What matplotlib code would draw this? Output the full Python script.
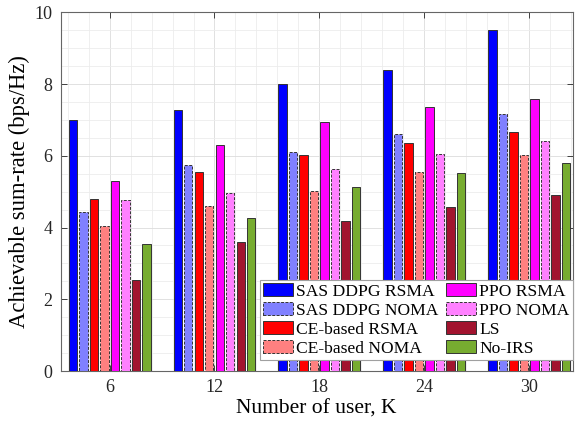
import numpy as np
import matplotlib
matplotlib.use('Agg')
import matplotlib.pyplot as plt
from matplotlib.ticker import MultipleLocator

# number of users
users = [6, 12, 18, 24, 30]

# achievable sum-rate (bps/Hz)
sas_rsma = [7.00, 7.29, 8.01, 8.39, 9.50]
sas_noma = [4.43, 5.73, 6.10, 6.62, 7.17]
ce_rsma  = [4.80, 5.55, 6.01, 6.37, 6.65]
ce_noma  = [4.04, 4.61, 5.03, 5.56, 6.03]
ppo_rsma = [5.29, 6.30, 6.93, 7.37, 7.58]
ppo_noma = [4.76, 4.97, 5.64, 6.06, 6.42]
ls       = [2.55, 3.59, 4.17, 4.57, 4.91]
no_irs   = [3.54, 4.27, 5.12, 5.53, 5.81]

names = ['SAS DDPG RSMA', 'SAS DDPG NOMA', 'CE-based RSMA', 'CE-based NOMA',
         'PPO RSMA', 'PPO NOMA', 'LS', 'No-IRS']
series = [sas_rsma, sas_noma, ce_rsma, ce_noma, ppo_rsma, ppo_noma, ls, no_irs]
colors = ['#0000ff', '#8080ff', '#ff0000', '#ff8080',
          '#ff00ff', '#ff80ff', '#a2142f', '#77ac30']
dashed = [False, True, False, True, False, True, False, False]

plt.rcParams['font.family'] = ['Liberation Serif', 'DejaVu Serif']

fig = plt.figure(figsize=(5.78, 4.24), dpi=100)
ax = fig.add_axes([0.105, 0.125, 0.886, 0.846])

x = np.array(users, dtype=float)
step = 0.8 * 6 / len(series)   # grouped bars like matlab
w = 0.8 * step
for i, (vals, col, nm, d) in enumerate(zip(series, colors, names, dashed)):
    pos = x + (i - (len(series) - 1) / 2) * step
    ax.bar(pos, vals, width=w, color=col, label=nm, zorder=3,
           edgecolor='#333333', linewidth=0.7,
           linestyle=(0, (3, 1.5)) if d else '-')

ax.set_xlim(3.2, 32.5)
ax.set_ylim(0, 10)
ax.set_xticks(users)
ax.set_yticks([0, 2, 4, 6, 8, 10])
ax.xaxis.set_minor_locator(MultipleLocator(1.2))
ax.yaxis.set_minor_locator(MultipleLocator(0.5))
ax.grid(True, which='major', color='#dcdcdc', linewidth=0.6, zorder=0)
ax.grid(True, which='minor', color='#ececec', linewidth=0.6, zorder=0)
ax.set_axisbelow(True)

ax.tick_params(which='major', direction='in', length=4, width=0.6,
               top=True, right=True, labelsize=13, colors='#262626', pad=6)
ax.tick_params(which='minor', length=0)
for sp in ax.spines.values():
    sp.set_color('#666666')
    sp.set_linewidth(0.8)

ax.set_xlabel('Number of user, K', fontsize=15.5, labelpad=2)
ax.set_ylabel('Achievable sum-rate (bps/Hz)', fontsize=16.3, labelpad=3)

leg = ax.legend(ncol=2, loc='lower right', bbox_to_anchor=(1.0, 0.03),
                borderaxespad=0, fontsize=12.6, fancybox=False,
                framealpha=1, edgecolor='#a0a0a0', handlelength=1.7,
                handleheight=0.7, handletextpad=0.2, labelspacing=0.16,
                columnspacing=0.4, borderpad=0.2)
leg.get_frame().set_linewidth(0.8)
leg.set_zorder(5)

fig.savefig('out.png', dpi=100)
